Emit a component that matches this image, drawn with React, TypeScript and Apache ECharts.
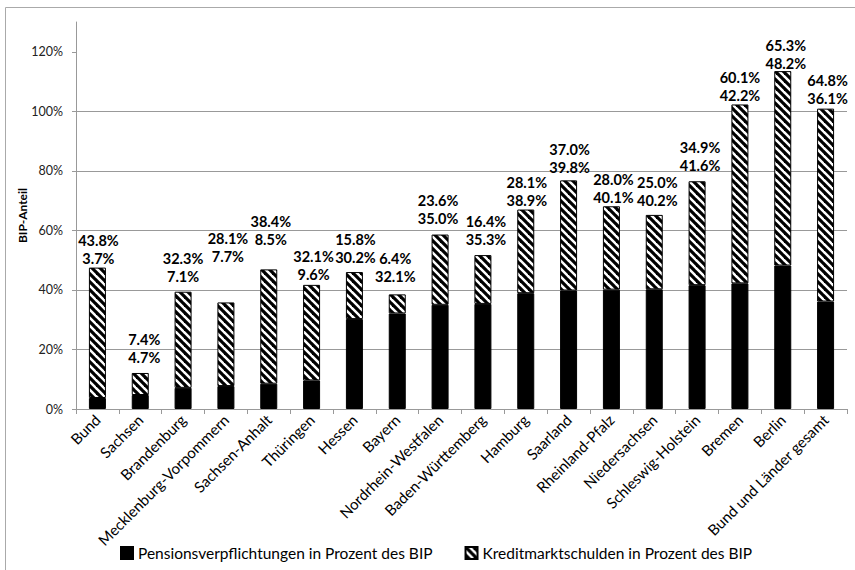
import React, { useEffect, useRef } from 'react';
import * as echarts from 'echarts';

const categories = [
  'Bund', 'Sachsen', 'Brandenburg', 'Mecklenburg-Vorpommern', 'Sachsen-Anhalt', 'Thüringen',
  'Hessen', 'Bayern', 'Nordrhein-Westfalen', 'Baden-Württemberg', 'Hamburg', 'Saarland',
  'Rheinland-Pfalz', 'Niedersachsen', 'Schleswig-Holstein', 'Bremen', 'Berlin', 'Bund und Länder gesamt',
];
const pension = [3.7, 4.7, 7.1, 7.7, 8.5, 9.6, 30.2, 32.1, 35.0, 35.3, 38.9, 39.8, 40.1, 40.2, 41.6, 42.2, 48.2, 36.1];
const kredit = [43.8, 7.4, 32.3, 28.1, 38.4, 32.1, 15.8, 6.4, 23.6, 16.4, 28.1, 37.0, 28.0, 25.0, 34.9, 60.1, 65.3, 64.8];
const yTicks = [0, 20, 40, 60, 80, 100, 120];
const seriesNames = ['Pensionsverpflichtungen in Prozent des BIP', 'Kreditmarktschulden in Prozent des BIP'];
const yAxisName = 'BIP-Anteil';

// layout only: visual gap (px) between label and bar top, and small horizontal shifts
const labelGap = [4, 10, 10, 41, 25, 5, 10, 13, 11, 11, 4, 8, 4, 9, 11, 4, 3, 5];
const labelShift = [1, 4, 0, 2, 2, 2, 1, -2, -2, 3, 1, 1, 2, 3, 3, 0, 3, 2];

function makeHatch() {
  const s = 8;
  const c = document.createElement('canvas');
  c.width = s;
  c.height = s;
  const ctx = c.getContext('2d')!;
  ctx.fillStyle = '#fff';
  ctx.fillRect(0, 0, s, s);
  ctx.strokeStyle = '#000';
  ctx.lineWidth = 3.2;
  for (let k = -2; k <= 2; k++) {
    ctx.beginPath();
    ctx.moveTo(k * s - s, -s);
    ctx.lineTo(k * s + 2 * s, 2 * s);
    ctx.stroke();
  }
  return c;
}

export default function App() {
  const ref = useRef<HTMLDivElement>(null);
  useEffect(() => {
    if (!ref.current) return;
    const chart = echarts.init(ref.current, undefined, { renderer: 'svg' });
    const hatch = { image: makeHatch(), repeat: 'repeat', imageWidth: 8, imageHeight: 8 } as any;
    const font = 'Lato';
    chart.setOption({
      animation: false,
      backgroundColor: '#fff',
      grid: { left: 76, right: 8, top: 22, bottom: 161, containLabel: false },
      legend: {
        left: 115,
        top: 540,
        itemWidth: 12,
        itemHeight: 12,
        itemGap: 32,
        icon: 'rect',
        textStyle: { fontFamily: font, fontSize: 15.5, color: '#000' },
        data: seriesNames,
      },
      xAxis: {
        type: 'category',
        data: categories,
        axisLine: { lineStyle: { color: '#999' } },
        axisTick: { show: true, length: 5, lineStyle: { color: '#999' } },
        axisLabel: { interval: 0, rotate: 45, fontFamily: font, fontSize: 15, color: '#000', margin: 8 },
      },
      yAxis: {
        type: 'value',
        min: 0,
        max: 130,
        interval: 20,
        name: yAxisName,
        nameLocation: 'middle',
        nameGap: 48,
        nameMoveOverlap: false,
        nameRotate: 90,
        nameTextStyle: { fontFamily: font, fontWeight: 'bold', fontSize: 12, color: '#000' },
        axisLine: { show: true, lineStyle: { color: '#999' } },
        axisTick: { show: true, length: 4, lineStyle: { color: '#999' }, customValues: yTicks },
        axisLabel: {
          customValues: yTicks,
          formatter: (v: number) => `${v}%`,
          fontFamily: font,
          fontSize: 12.5,
          color: '#222',
          margin: 13,
        },
        splitLine: { show: true, lineStyle: { color: '#999' }, showMaxLine: false },
      },
      graphic: [
        {
          type: 'rect',
          silent: true,
          z: -10,
          shape: { x: 5.5, y: 7.5, width: 900, height: 600 },
          style: { fill: 'none', stroke: '#aaa', lineWidth: 1 },
        },
      ],
      series: [
        {
          name: seriesNames[0],
          type: 'bar',
          stack: 'total',
          barWidth: 17,
          data: pension,
          itemStyle: { color: '#000', borderColor: '#000', borderWidth: 1 },
        },
        {
          name: seriesNames[1],
          type: 'bar',
          stack: 'total',
          barWidth: 17,
          itemStyle: { color: hatch, borderColor: '#000', borderWidth: 1 },
          data: kredit.map((v, i) => ({
            value: v,
            label: { distance: labelGap[i] - 4, offset: [labelShift[i], 0] },
          })),
          label: {
            show: true,
            position: 'top',
            formatter: (p: any) =>
              `${kredit[p.dataIndex].toFixed(1)}%\n${pension[p.dataIndex].toFixed(1)}%`,
            fontFamily: font,
            fontWeight: 'bold',
            fontSize: 14.5,
            lineHeight: 18,
            color: '#000',
          },
        },
      ],
    });
    return () => chart.dispose();
  }, []);
  return (
    <div
      ref={ref}
      style={{ position: 'fixed', left: 0, top: 0, width: 855, height: 570, background: '#fff' }}
    />
  );
}
